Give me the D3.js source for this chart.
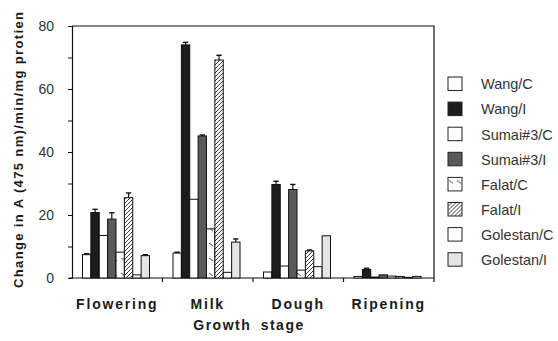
<!DOCTYPE html>
<html>
<head>
<meta charset="utf-8">
<script src="https://cdn.jsdelivr.net/npm/d3@7/dist/d3.min.js"></script>
<style>
  html, body { margin: 0; padding: 0; background: #fff; }
  svg { display: block; font-family: "Liberation Sans", Arial, Helvetica, sans-serif; }
</style>
</head>
<body>
<svg id="chart" width="558" height="341"></svg>
<script>
// Growth stages along the x axis
const stages = ["Flowering", "Milk", "Dough", "Ripening"];
// Cultivar / treatment series
const series = ["Wang/C", "Wang/I", "Sumai#3/C", "Sumai#3/I", "Falat/C", "Falat/I", "Golestan/C", "Golestan/I"];
// Mean values per series, one per stage
const wangC     = [7.4, 7.9, 1.9, 0.5];
const wangI     = [20.8, 74.0, 29.7, 2.7];
const sumaiC    = [13.5, 25.0, 3.8, 0.3];
const sumaiI    = [18.7, 45.1, 28.1, 1.0];
const falatC    = [8.2, 15.6, 2.5, 0.6];
const falatI    = [25.5, 69.2, 8.6, 0.5];
const golestanC = [1.0, 1.8, 3.6, 0.2];
const golestanI = [7.1, 11.4, 13.4, 0.5];
// Error (upper bar) per series, one per stage
const wangCErr     = [0.3, 0.3, 0, 0];
const wangIErr     = [1.0, 0.8, 1.0, 0.4];
const sumaiCErr    = [0, 0, 0, 0];
const sumaiIErr    = [2.0, 0.3, 1.6, 0];
const falatCErr    = [0, 0, 0, 0];
const falatIErr    = [1.5, 1.5, 0.3, 0];
const golestanCErr = [0, 0, 0, 0];
const golestanIErr = [0.3, 1.0, 0, 0];
const yTicks = [0, 20, 40, 60, 80];

const values = [wangC, wangI, sumaiC, sumaiI, falatC, falatI, golestanC, golestanI];
const errors = [wangCErr, wangIErr, sumaiCErr, sumaiIErr, falatCErr, falatIErr, golestanCErr, golestanIErr];

const svg = d3.select("#chart");
const defs = svg.append("defs");

// Dense diagonal hatching
const hatch = defs.append("pattern")
  .attr("id", "hatch").attr("patternUnits", "userSpaceOnUse")
  .attr("width", 4).attr("height", 4);
hatch.append("rect").attr("width", 4).attr("height", 4).attr("fill", "#fff");
hatch.append("path").attr("d", "M-1,1 l2,-2 M0,4 l4,-4 M3,5 l2,-2")
  .attr("stroke", "#222").attr("stroke-width", 0.9);

// Sparse short dashes
const dash = defs.append("pattern")
  .attr("id", "dash").attr("patternUnits", "userSpaceOnUse")
  .attr("width", 8).attr("height", 15);
dash.append("rect").attr("width", 8).attr("height", 15).attr("fill", "#fff");
dash.append("path").attr("d", "M1,3 l4,3")
  .attr("stroke", "#333").attr("stroke-width", 0.9);

const fills = ["#fff", "#1c1c1c", "#fff", "#5a5a5a", "url(#dash)", "url(#hatch)", "#fff", "#e4e4e4"];

const plotL = 72, plotR = 434, plotT = 26, plotB = 278;

const x0 = d3.scaleBand().domain(stages).range([plotL, plotR]).padding(0);
const x1 = d3.scaleBand().domain(series).range([10.5, 77.5]).padding(0);
const y = d3.scaleLinear().domain([0, 80]).range([plotB, plotT]);

// Frame: top and right border
svg.append("path")
  .attr("d", `M${plotL},${plotT}H${plotR}V${plotB}`)
  .attr("fill", "none").attr("stroke", "#111").attr("stroke-width", 1.2);

// Y axis
const yAxis = svg.append("g").attr("transform", `translate(${plotL},0)`)
  .call(d3.axisLeft(y).tickValues(d3.range(0, 81, 10)).tickSize(4)
    .tickFormat(d => yTicks.includes(d) ? d : ""));
yAxis.select(".domain").attr("stroke", "#111").attr("stroke-width", 1.2);
yAxis.selectAll(".tick line").attr("stroke", "#111");
yAxis.selectAll(".tick text").attr("x", -18).attr("font-size", 14).attr("fill", "#333")
  .attr("font-family", "Liberation Sans, Arial, sans-serif");

// X axis with ticks at stage boundaries
const xAxis = svg.append("g").attr("transform", `translate(0,${plotB})`);
xAxis.append("line").attr("x1", plotL - 3).attr("x2", plotR)
  .attr("stroke", "#111").attr("stroke-width", 1.2);
xAxis.selectAll("line.sep").data(stages).join("line").attr("class", "sep")
  .attr("x1", d => x0(d) + x0.bandwidth()).attr("x2", d => x0(d) + x0.bandwidth())
  .attr("y1", 0).attr("y2", 4).attr("stroke", "#111").attr("stroke-width", 1.2);
xAxis.selectAll("text").data(stages).join("text")
  .attr("x", d => x0(d) + x0.bandwidth() / 2)
  .attr("y", 31).attr("text-anchor", "middle")
  .attr("font-size", 14).attr("font-weight", "bold").attr("letter-spacing", 1.8)
  .attr("fill", "#1a1a1a").text(d => d);

// Bars
const rows = [];
stages.forEach((s, i) => series.forEach((k, j) => rows.push({ stage: s, key: k, j, v: values[j][i], e: errors[j][i] })));

const g = svg.append("g");
g.selectAll("rect.bar").data(rows).join("rect").attr("class", "bar")
  .attr("x", d => x0(d.stage) + x1(d.key))
  .attr("width", x1.bandwidth())
  .attr("y", d => y(d.v))
  .attr("height", d => y(0) - y(d.v))
  .attr("fill", d => fills[d.j])
  .attr("stroke", "#111").attr("stroke-width", 1);

// Error bars (upper)
const eb = g.selectAll("g.err").data(rows.filter(d => d.e > 0)).join("g").attr("class", "err");
eb.append("line")
  .attr("x1", d => x0(d.stage) + x1(d.key) + x1.bandwidth() / 2)
  .attr("x2", d => x0(d.stage) + x1(d.key) + x1.bandwidth() / 2)
  .attr("y1", d => y(d.v)).attr("y2", d => y(d.v + d.e))
  .attr("stroke", "#111").attr("stroke-width", 1.2);
eb.append("line")
  .attr("x1", d => x0(d.stage) + x1(d.key) + 1.5)
  .attr("x2", d => x0(d.stage) + x1(d.key) + x1.bandwidth() - 1.5)
  .attr("y1", d => y(d.v + d.e)).attr("y2", d => y(d.v + d.e))
  .attr("stroke", "#111").attr("stroke-width", 1.4);

// Axis titles
svg.append("text")
  .attr("transform", "translate(23,150) rotate(-90)")
  .attr("text-anchor", "middle").attr("font-size", 13).attr("font-weight", "bold")
  .attr("textLength", 276).attr("lengthAdjust", "spacing")
  .attr("fill", "#1a1a1a")
  .text("Change in A (475 nm)/min/mg protien");

svg.append("text")
  .attr("x", 249).attr("y", 330).attr("text-anchor", "middle")
  .attr("font-size", 14).attr("font-weight", "bold").attr("letter-spacing", 1.5)
  .attr("word-spacing", 4).attr("fill", "#1a1a1a")
  .text("Growth stage");

// Legend
const leg = svg.append("g").attr("transform", "translate(448,77)");
const item = leg.selectAll("g").data(series).join("g")
  .attr("transform", (d, i) => `translate(0,${i * 25.1})`);
item.append("rect").attr("width", 14).attr("height", 13.5)
  .attr("fill", (d, i) => fills[i]).attr("stroke", "#222").attr("stroke-width", 1);
item.append("text").attr("x", 33).attr("y", 12.3)
  .attr("font-size", 14.5).attr("fill", "#333").text(d => d);
</script>
</body>
</html>
